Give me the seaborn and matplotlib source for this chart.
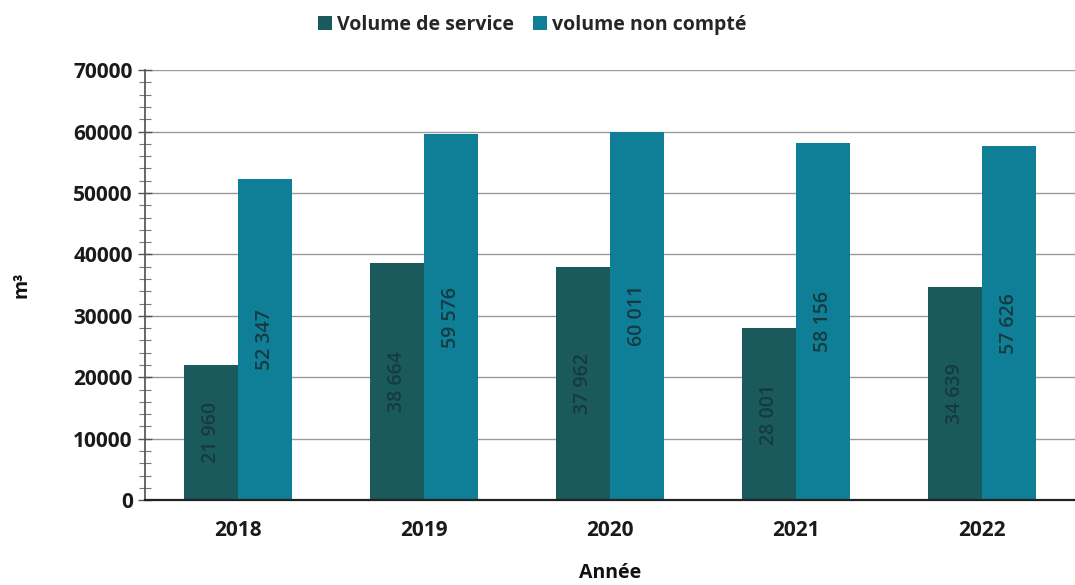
import matplotlib
matplotlib.use("Agg")
import matplotlib.pyplot as plt
from matplotlib.ticker import MultipleLocator
from matplotlib.patches import Patch
import seaborn as sns
import pandas as pd

years = ["2018", "2019", "2020", "2021", "2022"]
volume_service = [21960, 38664, 37962, 28001, 34639]
volume_non_compte = [52347, 59576, 60011, 58156, 57626]
series_names = ["Volume de service", "volume non compté"]
colors = ["#1b5a5c", "#0e7f96"]

df = pd.DataFrame({
    "Année": years * 2,
    "valeur": volume_service + volume_non_compte,
    "série": [series_names[0]] * len(years) + [series_names[1]] * len(years),
})

sns.set_theme(style="white")
plt.rcParams["font.family"] = ["Open Sans", "DejaVu Sans"]

fig = plt.figure(figsize=(10.75, 5.85), dpi=100)
ax = fig.add_axes([0.135, 0.145, 0.865, 0.735])

sns.barplot(data=df, x="Année", y="valeur", hue="série", palette=colors,
            width=0.58, gap=0, saturation=1, linewidth=0, ax=ax, legend=False)

for cont in ax.containers:
    labels = [f"{int(v):,}".replace(",", " ") for v in cont.datavalues]
    ax.bar_label(cont, labels=labels, label_type="center", rotation=90,
                 fontsize=14, fontweight="semibold", color="#163a42")

ax.set_ylim(0, 70000)
ax.set_xlim(-0.5, 4.5)
ax.yaxis.set_major_locator(MultipleLocator(10000))
ax.yaxis.set_minor_locator(MultipleLocator(2000))
ax.grid(axis="y", which="major", color="#9a9a9a", linewidth=1.0)
ax.set_axisbelow(True)

for s in ["top", "right"]:
    ax.spines[s].set_visible(False)
ax.spines["left"].set_color("#555555")
ax.spines["bottom"].set_color("#222222")
ax.spines["bottom"].set_linewidth(1.6)

ax.set_xticks([0.5, 1.5, 2.5, 3.5], minor=True)
ax.tick_params(axis="x", which="major", length=0, pad=14, labelsize=15)
ax.tick_params(axis="x", which="minor", length=14, direction="inout", width=1.3, color="#222222")
ax.tick_params(axis="y", which="major", length=10, direction="inout", width=1.0,
               color="#555555", labelsize=15, pad=4, left=True)
ax.tick_params(axis="y", which="minor", length=8, direction="inout", width=0.8,
               color="#777777", left=True)
for lbl in ax.get_xticklabels() + ax.get_yticklabels():
    lbl.set_fontweight("bold")
    lbl.set_color("#1a1a1a")

ax.set_xlabel("Année", fontsize=14, fontweight="bold", labelpad=16, color="#111111")
ax.set_ylabel("m³", fontsize=14, fontweight="bold", labelpad=30, color="#111111")

handles = [Patch(facecolor=c, edgecolor="none") for c in colors]
fig.legend(handles, series_names, loc="center", bbox_to_anchor=(0.495, 0.958),
           ncol=2, frameon=False, handlelength=0.7, handleheight=0.7,
           handletextpad=0.25, columnspacing=1.0,
           prop={"size": 14, "weight": "bold"})

fig.savefig("out.png", dpi=100)
